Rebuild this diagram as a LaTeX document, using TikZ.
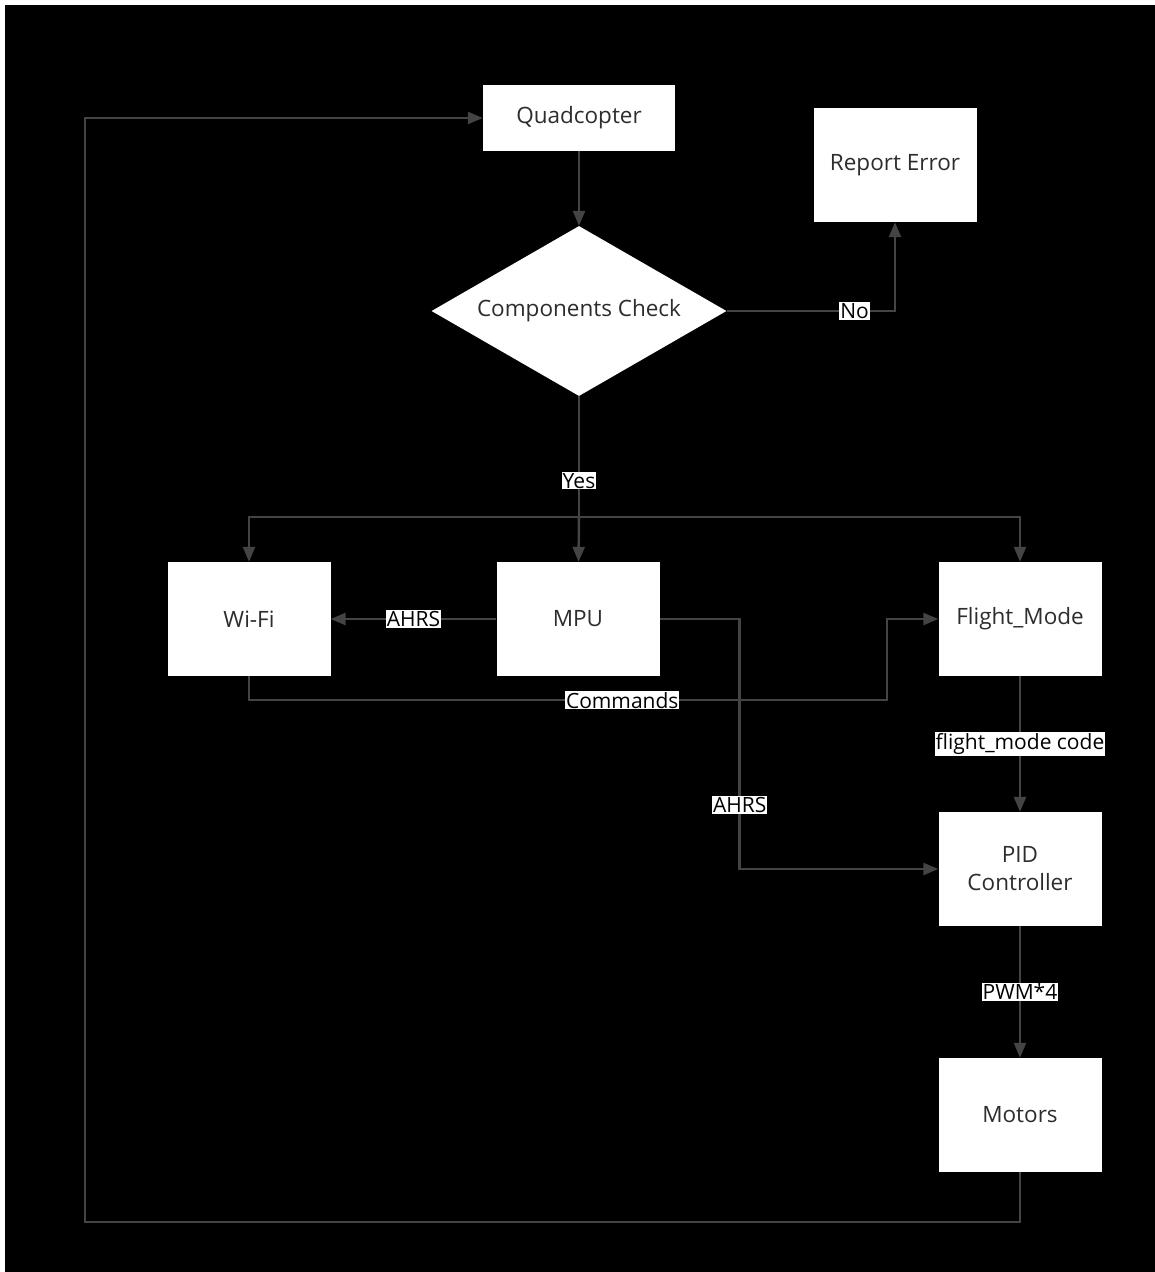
\documentclass[tikz,border=0pt]{standalone}
\usepackage{fontspec}
\setmainfont{Open Sans}
\usetikzlibrary{arrows.meta, positioning, shapes.geometric}
\definecolor{linegray}{RGB}{68,68,68}
\definecolor{textgray}{RGB}{45,45,45}

\begin{document}
\begin{tikzpicture}[
            x=1pt, y=-1pt,
            block/.style={
                rectangle,
                fill=white,
                minimum width=163pt,
                minimum height=114pt,
                align=center,
                text=textgray,
                font=\fontsize{22.5}{28}\selectfont
            },
            decision/.style={
                diamond,
                fill=white,
                aspect=1.735,
                inner sep=0pt,
                minimum width=295pt,
                minimum height=170pt,
                text=textgray,
                font=\fontsize{22.5}{28}\selectfont
            },
            tag/.style={
                rectangle,
                fill=white,
                inner sep=1pt,
                text=black,
                font=\fontsize{21}{24}\selectfont
            },
            arrow/.style={
                -{Triangle[length=15pt, width=12pt]},
                line width=2.5pt,
                draw=linegray
            },
            link/.style={
                line width=2.5pt,
                draw=linegray
            }
        ]

        % Background
        \fill[white] (0,0) rectangle (1155,1272);
        \fill[black] (5,5) rectangle (1155,1272);
        \useasboundingbox (0,0) rectangle (1155,1272);

        % Quadcopter and Check Nodes
        \node (quad) [block, minimum width=192pt, minimum height=66pt] at (579,118) {Quadcopter};
        \node (report) [block] at (895,165) {Report Error};
        \node (check) [decision] at (579,311) {Components Check};

        % Modules
        \node (wifi) [block] at (249,619) {Wi-Fi};
        \node (mpu) [block] at (578,619) {MPU};
        \node (mode) [block] at (1020,619) {Flight\_Mode};
        \node (pid) [block] at (1020,869) {PID\\Controller};
        \node (motors) [block] at (1020,1115) {Motors};

        % Branch and loop points
        \coordinate (split) at (579,517);
        \coordinate (loop) at (85,1222);

        % Arrows
        \draw[arrow] (quad) -- (check);
        \draw[arrow] (check.east) -| node[tag, pos=0.38] {No} (report.south);
        \draw[link] (check.south) -- node[tag, pos=0.7] {Yes} (split);
        \draw[arrow] (split) -| (wifi);
        \draw[arrow] (split) -- (mpu);
        \draw[arrow] (split) -| (mode);
        \draw[arrow] (mpu) -- node[tag] {AHRS} (wifi);
        \draw[arrow] (mpu.east) -- ++(80,0) |- node[tag, pos=0.372] {AHRS} (pid.west);
        \draw[arrow] (wifi.south) -- ++(0,24) -- node[tag, pos=0.585] {Commands} ++(638,0) |- (mode.west);
        \draw[arrow] (mode) -- node[tag] {flight\_mode code} (pid);
        \draw[arrow] (pid) -- node[tag] {PWM*4} (motors);
        \draw[arrow] (motors.south) |- (loop) |- (quad.west);

        \end{tikzpicture}
\end{document}
